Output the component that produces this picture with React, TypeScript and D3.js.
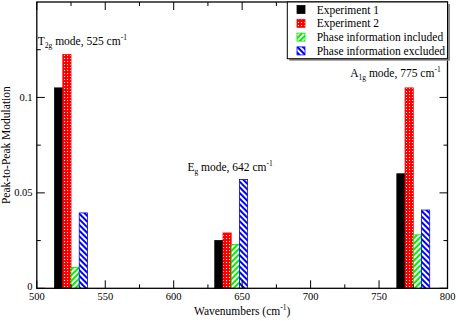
import React from 'react';
import * as d3 from 'd3';

// mode positions (cm^-1) and measured peak-to-peak modulation per series
const modes = [525, 642, 775];
const seriesNames = ['Experiment 1', 'Experiment 2', 'Phase information included', 'Phase information excluded'];
const exp1 = [0.105, 0.025, 0.06];
const exp2 = [0.1225, 0.029, 0.105];
const phaseIncluded = [0.011, 0.023, 0.028];
const phaseExcluded = [0.0395, 0.057, 0.041];
const xTicks = [500, 550, 600, 650, 700, 750, 800];
const yTicks = [0, 0.05, 0.1];
const yTickLabels = ['0', '0.05', '0.1'];

const W = 457;
const H = 321;
const TXT = { fontFamily: "'Liberation Serif'" };

const x = d3.scaleLinear().domain([500, 800]).range([36.8, 447.5]);
const y = d3.scaleLinear().domain([0, 0.15]).range([288.3, 2]);

const fills = ['#000000', 'url(#dots)', 'url(#greenStripes)', 'url(#blueStripes)'];
const strokes = ['#000000', '#ff0000', '#00e000', '#0000ff'];
const barW = 6; // wavenumber units per bar

export default function App() {
  const values = [exp1, exp2, phaseIncluded, phaseExcluded];
  const xMinor = d3.range(525, 800, 50);
  const yMinor = [0.025, 0.075, 0.125];
  const [x0, x1] = x.range();
  const [y0, y1] = y.range();

  return (
    <svg width={W} height={H} style={{ position: 'absolute', left: 0, top: 0, background: '#fff' }}>
      <defs>
        <pattern id="dots" width="3" height="3" patternUnits="userSpaceOnUse">
          <rect width="3" height="3" fill="#ff0000" />
          <rect x="1" y="1" width="1" height="1" fill="#ffffff" />
        </pattern>
        <pattern id="greenStripes" width="4" height="4" patternUnits="userSpaceOnUse" patternTransform="rotate(45)">
          <rect width="4" height="4" fill="#ffffff" />
          <rect width="2" height="4" fill="#00ee00" />
        </pattern>
        <pattern id="blueStripes" width="4" height="4" patternUnits="userSpaceOnUse" patternTransform="rotate(-45)">
          <rect width="4" height="4" fill="#ffffff" />
          <rect width="2" height="4" fill="#0000ff" />
        </pattern>
      </defs>

      {/* bars */}
      {modes.map((m, gi) =>
        values.map((vals, si) => {
          const left = m + (si - 2) * barW;
          return (
            <rect
              key={`${gi}-${si}`}
              x={x(left)}
              y={y(vals[gi])}
              width={x(left + barW) - x(left)}
              height={y(0) - y(vals[gi])}
              fill={fills[si]}
              stroke={strokes[si]}
              strokeWidth={0.8}
            />
          );
        })
      )}

      {/* frame */}
      <rect x={x0} y={y1} width={x1 - x0} height={y0 - y1} fill="none" stroke="#000" strokeWidth={1.3} />

      {/* x ticks */}
      {xTicks.map((t) => (
        <g key={`xt${t}`} stroke="#000" strokeWidth={1}>
          <line x1={x(t)} x2={x(t)} y1={y0} y2={y0 - 8} />
          <line x1={x(t)} x2={x(t)} y1={y1} y2={y1 + 8} />
        </g>
      ))}
      {xMinor.map((t) => (
        <g key={`xm${t}`} stroke="#000" strokeWidth={1}>
          <line x1={x(t)} x2={x(t)} y1={y0} y2={y0 - 4} />
          <line x1={x(t)} x2={x(t)} y1={y1} y2={y1 + 4} />
        </g>
      ))}
      {xTicks.map((t) => (
        <text key={`xl${t}`} x={x(t)} y={299.5} fontSize={10.5} textAnchor="middle" fill="#000" style={TXT}>
          {t}
        </text>
      ))}

      {/* y ticks */}
      {yTicks.map((t, i) => (
        <g key={`yt${t}`}>
          <line x1={x0} x2={x0 + 8} y1={y(t)} y2={y(t)} stroke="#000" />
          <line x1={x1} x2={x1 - 8} y1={y(t)} y2={y(t)} stroke="#000" />
          <text x={32.5} y={y(t) + (t === 0 ? 2 : 3.5)} fontSize={10.5} textAnchor="end" fill="#000" style={TXT}>
            {yTickLabels[i]}
          </text>
        </g>
      ))}
      {yMinor.map((t) => (
        <g key={`ym${t}`} stroke="#000">
          <line x1={x0} x2={x0 + 4} y1={y(t)} y2={y(t)} />
          <line x1={x1} x2={x1 - 4} y1={y(t)} y2={y(t)} />
        </g>
      ))}

      {/* axis titles */}
      <text x={(x0 + x1) / 2} y={315} fontSize={11.5} textAnchor="middle" fill="#000" style={TXT}>
        Wavenumbers (cm<tspan dy={-5} fontSize={7.5}>-1</tspan><tspan dy={5}>)</tspan>
      </text>
      <text transform={`translate(10,${(y0 + y1) / 2}) rotate(-90)`} fontSize={11.5} textAnchor="middle" fill="#000" style={TXT}>
        Peak-to-Peak Modulation
      </text>

      {/* mode annotations */}
      <text x={x(500.7)} y={y(0.1275)} fontSize={11.5} fill="#000" style={TXT}>
        T<tspan dy={3} fontSize={7.5}>2g</tspan><tspan dy={-3}> mode, 525 cm</tspan><tspan dy={-5} fontSize={7.5}>-1</tspan>
      </text>
      <text x={x(610)} y={y(0.0615)} fontSize={11.5} fill="#000" style={TXT}>
        E<tspan dy={3} fontSize={7.5}>g</tspan><tspan dy={-3}> mode, 642 cm</tspan><tspan dy={-5} fontSize={7.5}>-1</tspan>
      </text>
      <text x={x(795)} y={y(0.1107)} fontSize={11.5} textAnchor="end" fill="#000" style={TXT}>
        A<tspan dy={3} fontSize={7.5}>1g</tspan><tspan dy={-3}> mode, 775 cm</tspan><tspan dy={-5} fontSize={7.5}>-1</tspan>
      </text>

      {/* legend */}
      <g>
        <rect x={289.3} y={4} width={160.7} height={56.7} fill="#888" />
        <rect x={287.3} y={2} width={160.2} height={56.7} fill="#fff" stroke="#000" strokeWidth={1} />
        {seriesNames.map((name, i) => {
          const cy = 9.5 + i * 13.8;
          return (
            <g key={name}>
              <rect x={297} y={cy - 4} width={8} height={8} fill={fills[i]} stroke={strokes[i]} strokeWidth={0.8} />
              <text x={316.7} y={cy + 4} fontSize={11.5} fill="#000" style={TXT}>
                {name}
              </text>
            </g>
          );
        })}
      </g>
    </svg>
  );
}
